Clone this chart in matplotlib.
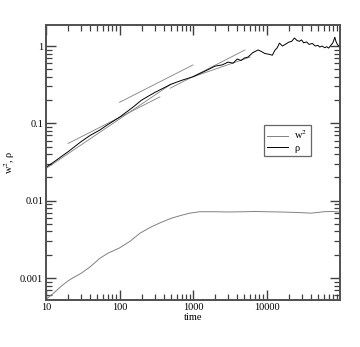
import matplotlib
matplotlib.use("Agg")
import matplotlib.pyplot as plt
from matplotlib.ticker import FixedLocator, LogLocator, NullFormatter, FixedFormatter

plt.rcParams['font.family'] = ['Liberation Serif', 'DejaVu Serif']
plt.rcParams['mathtext.fontset'] = 'stix'

# rho (upper curve)
rho_t = [10, 13, 16, 20, 30, 40, 54, 70, 100, 150, 200, 300, 500, 700, 1000, 1500,
         2000, 2500, 3000, 3500, 4000, 4500, 5000, 5600, 6500, 7700, 8500, 9500,
         11000, 12000, 13000, 14000, 15000, 16500, 18000, 20000, 22000, 24000,
         26000, 28000, 30000, 32000, 35000, 38000, 42000, 46000, 50000, 53000,
         57000, 62000, 66000, 70000, 75000, 80000, 85000, 88000, 92000, 96000, 100000]
rho_v = [0.027, 0.032, 0.037, 0.043, 0.058, 0.070, 0.082, 0.097, 0.12, 0.16, 0.20,
         0.25, 0.32, 0.36, 0.40, 0.48, 0.55, 0.57, 0.62, 0.60, 0.68, 0.65, 0.70,
         0.72, 0.82, 0.89, 0.85, 0.80, 0.78, 0.76, 0.88, 0.95, 1.09, 1.0, 1.05,
         1.12, 1.15, 1.27, 1.18, 1.15, 1.20, 1.10, 1.13, 1.05, 1.08, 1.0, 1.02,
         0.97, 1.0, 0.95, 0.98, 0.94, 1.02, 1.1, 1.3, 1.15, 1.05, 1.0, 0.97]

# w^2 (lower curve)
w2_t = [10, 13, 16, 20, 23, 30, 40, 54, 70, 100, 140, 190, 260, 360, 500, 665, 900,
        1240, 2000, 3000, 5000, 7000, 10000, 15000, 20000, 30000, 40000, 50000,
        60000, 80000, 100000]
w2_v = [5.3e-4, 6.5e-4, 7.8e-4, 9.2e-4, 1.0e-3, 1.15e-3, 1.4e-3, 1.8e-3, 2.1e-3,
        2.45e-3, 3.0e-3, 3.8e-3, 4.5e-3, 5.2e-3, 5.9e-3, 6.4e-3, 6.9e-3, 7.2e-3,
        7.2e-3, 7.15e-3, 7.2e-3, 7.25e-3, 7.2e-3, 7.15e-3, 7.1e-3, 7.0e-3, 6.9e-3,
        7.05e-3, 7.2e-3, 7.25e-3, 7.1e-3]

# power-law fit segments (t_start, t_end, y_start, y_end)
fit_t0 = [10, 20, 100, 490, 1000]
fit_t1 = [500, 355, 1000, 5100, 6000]
fit_y0 = [0.026, 0.055, 0.187, 0.285, 0.40]
fit_y1 = [0.32, 0.22, 0.57, 0.89, 0.72]

x_ticks = [10, 100, 1000, 10000]
x_labels = ['10', '100', '1000', '10000']
y_ticks = [0.001, 0.01, 0.1, 1]
y_labels = ['0.001', '0.01', '0.1', '1']

fig = plt.figure(figsize=(3.6, 3.47), dpi=100)
ax = fig.add_axes([46/360, 1-300/347, (340-46)/360, (300-25)/347])

for a, b, c, d in zip(fit_t0, fit_t1, fit_y0, fit_y1):
    ax.plot([a, b], [c, d], color='#808080', lw=0.6)

ax.plot(w2_t, w2_v, color='#808080', lw=0.7, label='w$^{2}$')
ax.plot(rho_t, rho_v, color='black', lw=0.7, label='ρ')

ax.set_xscale('log')
ax.set_yscale('log')
ax.set_xlim(10, 1e5)
ax.set_ylim(5.2e-4, 1.87)

ax.xaxis.set_major_locator(FixedLocator(x_ticks))
ax.xaxis.set_major_formatter(FixedFormatter(x_labels))
ax.yaxis.set_major_locator(FixedLocator(y_ticks))
ax.yaxis.set_major_formatter(FixedFormatter(y_labels))
ax.xaxis.set_minor_locator(LogLocator(base=10, subs=range(2, 10), numticks=20))
ax.yaxis.set_minor_locator(LogLocator(base=10, subs=range(2, 10), numticks=20))
ax.xaxis.set_minor_formatter(NullFormatter())
ax.yaxis.set_minor_formatter(NullFormatter())

ax.tick_params(which='both', direction='in', top=True, right=True,
               color='#404040', labelsize=7.5, pad=2)
ax.tick_params(which='major', length=7, width=1.0)
ax.tick_params(which='minor', length=4, width=0.9)
for s in ax.spines.values():
    s.set_color('#505050')
    s.set_linewidth(1.4)

ax.set_xlabel('time', fontsize=7.5, labelpad=1)
ax.set_ylabel('w$^{2}$, ρ', fontsize=7.5)
ax.yaxis.set_label_coords((17 - 46) / 294, 0.5)

leg = ax.legend(loc='upper left', bbox_to_anchor=((259-46)/294, 1-(120-25)/275),
                fontsize=7.5, frameon=True, fancybox=False, handlelength=2.0,
                borderpad=0.3, labelspacing=0.2, handletextpad=0.6)
leg.get_frame().set_edgecolor('#404040')
leg.get_frame().set_linewidth(0.9)

fig.savefig('out.png', dpi=100)
